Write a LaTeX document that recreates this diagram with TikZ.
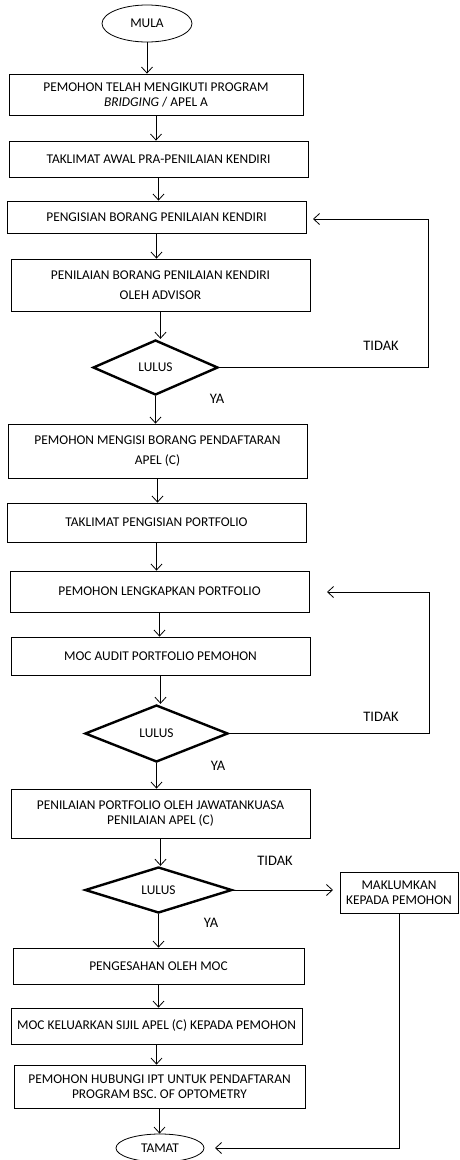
\documentclass[tikz,border=0pt]{standalone}
\usepackage{fontspec}
\setmainfont{Carlito}
\usetikzlibrary{shapes.geometric,arrows.meta}

\begin{document}
\begin{tikzpicture}[x=1pt,y=-1pt,
  font=\fontsize{13.4}{15}\selectfont,
  every path/.style={line width=0.8pt},
  box/.style={shape=rectangle,draw=black,align=center,minimum width=299pt,inner sep=0pt},
  decision/.style={shape=diamond,draw=black,line width=2.4pt,inner sep=0pt},
  terminal/.style={shape=ellipse,draw=black,minimum width=90pt,inner sep=0pt},
  lbl/.style={font=\fontsize{14.5}{16}\selectfont},
  >={Straight Barb[length=6pt,width=11pt]}]

\useasboundingbox (0,0) rectangle (459,1160);

\node[terminal,minimum height=37pt] (mula) at (147,23.5) {MULA};
\node[box,minimum width=294pt,minimum height=41pt] (ikut) at (156,94.5) {PEMOHON TELAH MENGIKUTI PROGRAM\\\textit{BRIDGING} / APEL A};
\node[box,minimum height=36pt] (awal) at (158.5,159) {TAKLIMAT AWAL PRA-PENILAIAN KENDIRI};
\node[box,minimum height=32pt] (isi) at (156.5,217) {PENGISIAN BORANG PENILAIAN KENDIRI};
\node[box,minimum height=52pt] (nilai) at (160.5,285) {PENILAIAN BORANG PENILAIAN KENDIRI\\[5pt]OLEH ADVISOR};
\node[decision,minimum width=125pt,minimum height=55pt] (lulusA) at (155.5,367.5) {LULUS};
\node[box,minimum height=54pt] (daftar) at (157.5,451) {PEMOHON MENGISI BORANG PENDAFTARAN\\[5pt]APEL (C)};
\node[box,minimum height=39pt] (taklimat) at (156.5,522.5) {TAKLIMAT PENGISIAN PORTFOLIO};
\node[box,minimum height=41pt] (lengkap) at (159.5,591.5) {PEMOHON LENGKAPKAN PORTFOLIO};
\node[box,minimum height=38pt] (audit) at (160.5,656) {MOC AUDIT PORTFOLIO PEMOHON};
\node[decision,minimum width=143pt,minimum height=57pt] (lulusB) at (156.5,733.5) {LULUS};
\node[box,minimum height=49pt] (jk) at (160.5,813.5) {PENILAIAN PORTFOLIO OLEH JAWATANKUASA\\PENILAIAN APEL (C)};
\node[decision,minimum width=147pt,minimum height=46pt] (lulusC) at (158.5,890) {LULUS};
\node[box,minimum width=118pt,minimum height=41pt] (maklum) at (399,892.5) {MAKLUMKAN\\KEPADA PEMOHON};
\node[box,minimum width=291pt,minimum height=36pt] (sah) at (158.5,966) {PENGESAHAN OLEH MOC};
\node[box,minimum width=291pt,minimum height=36pt] (sijil) at (156.5,1026) {MOC KELUARKAN SIJIL APEL (C) KEPADA PEMOHON};
\node[box,minimum width=291pt,minimum height=43pt] (ipt) at (159.5,1086.5) {PEMOHON HUBUNGI IPT UNTUK PENDAFTARAN\\PROGRAM BSC. OF OPTOMETRY};
\node[terminal,minimum width=88pt,minimum height=28pt] (tamat) at (160,1148) {TAMAT};

\node[lbl] (tidakA) at (381,346) {TIDAK};
\node[lbl] (yaA) at (217,399) {YA};
\node[lbl] (tidakB) at (381,717) {TIDAK};
\node[lbl] (yaB) at (218,766) {YA};
\node[lbl] (tidakC) at (275,861) {TIDAK};
\node[lbl] (yaC) at (211,923) {YA};

\coordinate (balikA) at (428,219);
\coordinate (hujungA) at (313,219);
\coordinate (balikB) at (429,592);
\coordinate (hujungB) at (327,592);
\coordinate (hujungC) at (333,890);
\coordinate (hujungD) at (215,1148);

\draw[->] (mula) -- (mula |- ikut.north);
\draw[->] (ikut) -- (ikut |- awal.north);
\draw[->] (awal) -- (awal |- isi.north);
\draw[->] (isi) -- (isi |- nilai.north);
\draw[->] (nilai) -- (nilai |- lulusA.north);
\draw[->] (lulusA) -- (lulusA |- daftar.north);
\draw[->] (daftar) -- (daftar |- taklimat.north);
\draw[->] (taklimat) -- (taklimat |- lengkap.north);
\draw[->] (lengkap) -- (lengkap |- audit.north);
\draw[->] (audit) -- (audit |- lulusB.north);
\draw[->] (lulusB) -- (lulusB |- jk.north);
\draw[->] (jk) -- (jk |- lulusC.north);
\draw[->] (lulusC) -- (lulusC |- sah.north);
\draw[->] (sah) -- (sah |- sijil.north);
\draw[->] (sijil) -- (sijil |- ipt.north);
\draw[->] (ipt) -- (ipt |- tamat.north);

\draw[->] (lulusA.east) -| (balikA) -- (hujungA);
\draw[->] (lulusB.east) -| (balikB) -- (hujungB);
\draw[->] (lulusC.east) -- (hujungC);
\draw[->] (maklum.south) |- (hujungD);

\end{tikzpicture}
\end{document}
